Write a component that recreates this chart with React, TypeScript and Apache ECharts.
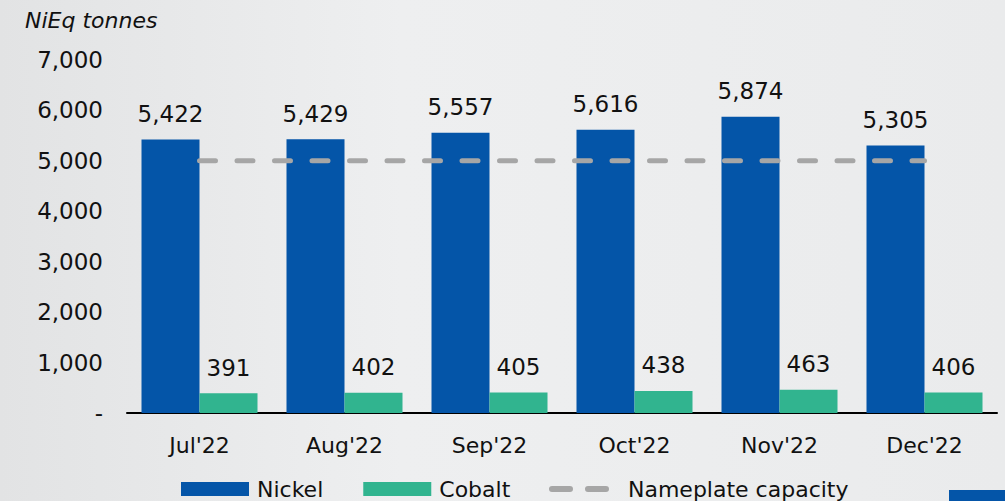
import React, { useEffect, useRef } from "react";
import * as echarts from "echarts";

const categories = ["Jul'22", "Aug'22", "Sep'22", "Oct'22", "Nov'22", "Dec'22"];
const nickel = [5422, 5429, 5557, 5616, 5874, 5305];
const cobalt = [391, 402, 405, 438, 463, 406];
const nameplate = [5000, 5000, 5000, 5000, 5000, 5000];

const FONT = "'DejaVu Sans', sans-serif";
const fmt = (v: number) => (v === 0 ? "-" : v.toLocaleString("en-US"));
const DASH_ICON =
  "path://M2.5,0 h15 a2.5,2.5 0 0 1 0,5 h-15 a2.5,2.5 0 0 1 0,-5 z M32.5,0 h15 a2.5,2.5 0 0 1 0,5 h-15 a2.5,2.5 0 0 1 0,-5 z";

export default function App() {
  const ref = useRef<HTMLDivElement>(null);
  useEffect(() => {
    const chart = echarts.init(ref.current!, null, { renderer: "svg" });
    const labelStyle = {
      show: true,
      position: "top",
      distance: 14,
      fontSize: 23,
      color: "#111",
      fontFamily: FONT,
      formatter: (p: any) => fmt(p.value),
    };
    chart.setOption({
      animation: false,
      backgroundColor: {
        type: "linear",
        x: 0, y: 0, x2: 1, y2: 0,
        colorStops: [
          { offset: 0, color: "#e2e3e4" },
          { offset: 0.4, color: "#eeeff0" },
          { offset: 1, color: "#eaebec" },
        ],
      },
      textStyle: { fontFamily: FONT },
      graphic: [
        {
          type: "text",
          x: 25,
          y: 20,
          style: {
            text: "NiEq tonnes",
            font: `italic 22px ${FONT}`,
            fill: "#111",
            verticalAlign: "middle",
          },
        },
        {
          type: "rect",
          shape: { x: 949, y: 490, width: 56, height: 11 },
          style: { fill: "#0455a8" },
        },
      ],
      grid: { left: 127, right: 8, top: 60, bottom: 88 },
      legend: [
        {
          left: 176,
          top: 473,
          itemWidth: 68,
          itemHeight: 14,
          itemGap: 40,
          textStyle: { fontSize: 22, color: "#111", fontFamily: FONT, padding: [0, 0, 0, 3] },
          data: [
            { name: "Nickel", icon: "rect" },
            { name: "Cobalt", icon: "rect" },
          ],
        },
        {
          left: 544,
          top: 473,
          itemWidth: 60,
          itemHeight: 14,
          textStyle: { fontSize: 22, color: "#111", fontFamily: FONT, padding: [0, 0, 0, 14] },
          data: [{ name: "Nameplate capacity", icon: DASH_ICON }],
        },
      ],
      xAxis: {
        type: "category",
        data: categories,
        axisLine: { lineStyle: { color: "#000", width: 2 } },
        axisTick: { show: false },
        axisLabel: { fontSize: 22, color: "#111", margin: 21, fontFamily: FONT },
      },
      yAxis: {
        type: "value",
        min: 0,
        max: 7000,
        interval: 1000,
        splitLine: { show: false },
        axisLine: { show: false },
        axisTick: { show: false },
        axisLabel: {
          fontSize: 23,
          color: "#111",
          margin: 24,
          fontFamily: FONT,
          formatter: (v: number) => fmt(v),
        },
      },
      series: [
        {
          name: "Nickel",
          type: "bar",
          data: nickel,
          barGap: "0%",
          barCategoryGap: "20%",
          itemStyle: { color: "#0455a8" },
          label: labelStyle,
        },
        {
          name: "Cobalt",
          type: "bar",
          data: cobalt,
          itemStyle: { color: "#31b48f" },
          label: labelStyle,
        },
        {
          name: "Nameplate capacity",
          type: "line",
          data: nameplate,
          symbol: "none",
          z: 5,
          itemStyle: { color: "#a6a6a6" },
          lineStyle: { color: "#a6a6a6", width: 5, type: [16, 21.5], cap: "round" },
        },
      ],
    });
    return () => chart.dispose();
  }, []);
  return <div ref={ref} style={{ width: 1005, height: 501, position: "absolute", left: 0, top: 0 }} />;
}
